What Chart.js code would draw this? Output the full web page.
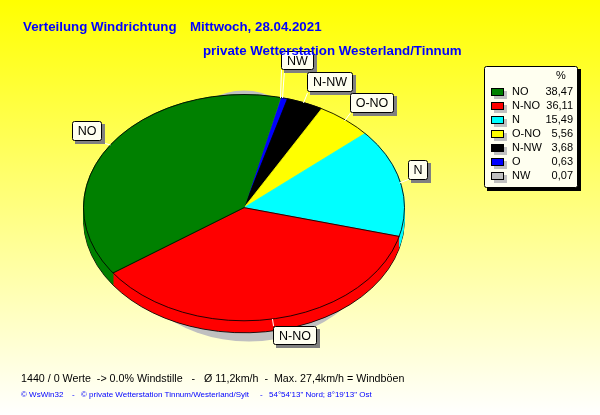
<!DOCTYPE html>
<html>
<head>
<meta charset="utf-8">
<script src="https://cdn.jsdelivr.net/npm/chart.js@4"></script>
<style>
    html, body { margin: 0; padding: 0; }
    body { width: 600px; height: 415px; overflow: hidden; background: linear-gradient(180deg, #ffff00 0%, #ffffff 100%); }
    #wrap { position: absolute; left: 0; top: 0; width: 600px; height: 415px; }
</style>
</head>
<body>
<div id="wrap"><canvas id="chart" width="600" height="415"></canvas></div>
<script>
// legend order, as printed
const categories = ['NO', 'N-NO', 'N', 'O-NO', 'N-NW', 'O', 'NW'];
const percentValues = [38.47, 36.11, 15.49, 5.56, 3.68, 0.63, 0.07];
const percentLabels = ['38,47', '36,11', '15,49', '5,56', '3,68', '0,63', '0,07'];
const sliceColors = ['#008000', '#ff0000', '#00ffff', '#ffff00', '#000000', '#0000ff', '#c0c0c0'];

// the original runs counter-clockwise, chart.js only clockwise
const drawLabels = [...categories].reverse();
const drawValues = [...percentValues].reverse();
const drawColors = [...sliceColors].reverse();

const squash = 113.5 / 161;
const centerY = 208;
const depth = 12;

// callouts: name, box x, y, w, h
const callouts = [
    ['NW', 281, 51, 33, 19],
    ['N-NW', 307, 72, 46, 20],
    ['O-NO', 350, 93, 44, 20],
    ['N', 408, 160, 20, 20],
    ['NO', 72, 121, 30, 20],
    ['N-NO', 273, 326, 44, 19]
];
// white leaders: x1, y1, x2, y2
const leaders = [
    [281, 70, 280, 98],
    [284, 70, 282, 98],
    [307, 93, 303, 103],
    [350, 113, 344, 121],
    [409, 179, 399, 183],
    [103, 143, 110, 145],
    [272, 319, 273, 326]
];

function rect3d(ctx, x, y, w, h, shadow, off) {
    ctx.fillStyle = shadow;
    ctx.fillRect(x + off, y + off, w, h);
    ctx.beginPath();
    ctx.roundRect(x + 0.5, y + 0.5, w - 1, h - 1, 2);
    ctx.fillStyle = '#fffff0';
    ctx.fill();
    ctx.strokeStyle = '#000';
    ctx.lineWidth = 1;
    ctx.stroke();
}

const tiltPlugin = {
    id: 'tilt',
    beforeDatasetsDraw(chart) {
        const ctx = chart.ctx;
        const arcs = chart.getDatasetMeta(0).data;
        const cx = arcs[0].x;
        const cy = arcs[0].y;
        const r = arcs[0].outerRadius;

        // grey shadow behind the pie
        ctx.save();
        ctx.fillStyle = '#c0c0c0';
        ctx.beginPath();
        ctx.ellipse(cx, cy + 8, 92, 125, 0, 0, Math.PI * 2);
        ctx.fill();
        ctx.beginPath();
        ctx.ellipse(cx + 5, cy + 18, 135, 116, 0, 0, Math.PI * 2);
        ctx.fill();
        ctx.restore();

        // side wall, stacked from the bottom up
        ctx.save();
        ctx.translate(0, centerY);
        ctx.scale(1, squash);
        ctx.translate(0, -centerY);
        for (let d = depth; d >= 1; d--) {
            arcs.forEach((arc, i) => {
                const p = arc.getProps(['startAngle', 'endAngle']);
                ctx.beginPath();
                ctx.moveTo(cx, cy + d / squash);
                ctx.arc(cx, cy + d / squash, r, p.startAngle, p.endAngle);
                ctx.closePath();
                ctx.fillStyle = drawColors[i];
                ctx.fill();
                if (d === depth) {
                    ctx.beginPath();
                    ctx.arc(cx, cy + d / squash, r, p.startAngle, p.endAngle);
                    ctx.strokeStyle = '#000';
                    ctx.lineWidth = 1;
                    ctx.stroke();
                }
            });
        }
        ctx.restore();

        // squash the library's own arcs into the ellipse
        ctx.save();
        ctx.translate(0, centerY);
        ctx.scale(1, squash);
        ctx.translate(0, -centerY);
    },
    afterDatasetsDraw(chart) {
        const ctx = chart.ctx;
        const arcs = chart.getDatasetMeta(0).data;
        const cx = arcs[0].x;
        const cy = arcs[0].y;
        const r = arcs[0].outerRadius;

        // black rim of the top face, still squashed
        ctx.beginPath();
        ctx.arc(cx, cy, r, 0, Math.PI * 2);
        ctx.strokeStyle = '#000';
        ctx.lineWidth = 1;
        ctx.stroke();
        // black spokes either side of the red slice
        const red = arcs[drawLabels.indexOf('N-NO')].getProps(['startAngle', 'endAngle']);
        [red.startAngle, red.endAngle].forEach(a => {
            ctx.beginPath();
            ctx.moveTo(cx, cy);
            ctx.lineTo(cx + r * Math.cos(a), cy + r * Math.sin(a));
            ctx.stroke();
        });
        ctx.restore();

        ctx.save();
        // leaders
        ctx.strokeStyle = '#ffffff';
        ctx.lineWidth = 1;
        leaders.forEach(l => {
            ctx.beginPath();
            ctx.moveTo(l[0] + 0.5, l[1]);
            ctx.lineTo(l[2] + 0.5, l[3]);
            ctx.stroke();
        });
        // callout boxes
        ctx.font = '12.5px "Liberation Sans"';
        ctx.textAlign = 'center';
        ctx.textBaseline = 'middle';
        callouts.forEach(c => {
            rect3d(ctx, c[1], c[2], c[3], c[4], '#808080', 3);
            ctx.fillStyle = '#000';
            ctx.fillText(c[0], c[1] + c[3] / 2, c[2] + c[4] / 2 + 1);
        });

        // legend box
        rect3d(ctx, 484, 66, 94, 122, '#000000', 3);
        ctx.font = '11px "Liberation Sans"';
        ctx.textAlign = 'left';
        ctx.fillStyle = '#000';
        ctx.fillText('%', 556, 76);
        categories.forEach((name, i) => {
            const y = 92 + i * 14;
            ctx.fillStyle = '#c0c0c0';
            ctx.fillRect(494, y - 1, 13, 8);
            ctx.fillStyle = sliceColors[i];
            ctx.fillRect(491, y - 4, 13, 8);
            ctx.strokeStyle = '#000';
            ctx.strokeRect(491.5, y - 3.5, 12, 7);
            ctx.fillStyle = '#000';
            ctx.textAlign = 'left';
            ctx.fillText(name, 512, y);
            ctx.textAlign = 'right';
            ctx.fillText(percentLabels[i], 573, y);
        });

        // title and footer
        ctx.textAlign = 'left';
        ctx.textBaseline = 'alphabetic';
        ctx.fillStyle = '#0000ff';
        ctx.font = 'bold 13.3px "Liberation Sans"';
        ctx.fillText('Verteilung Windrichtung', 23, 31);
        ctx.fillText('Mittwoch, 28.04.2021', 190, 31);
        ctx.fillText('private Wetterstation Westerland/Tinnum', 203, 55);
        ctx.fillStyle = '#000';
        ctx.font = '10.7px "Liberation Sans"';
        ctx.fillText('1440 / 0 Werte  -> 0.0% Windstille   -   Ø 11,2km/h  -  Max. 27,4km/h = Windböen', 21, 382);
        ctx.fillStyle = '#0000ff';
        ctx.font = '8px "Liberation Sans"';
        ctx.fillText('© WsWin32', 21, 397);
        ctx.fillText('-', 72, 397);
        ctx.fillText('© private Wetterstation Tinnum/Westerland/Sylt', 81, 397);
        ctx.fillText('-', 260, 397);
        ctx.fillText('54°54\'13" Nord; 8°19\'13" Ost', 269, 397);
        ctx.restore();
    }
};

new Chart(document.getElementById('chart'), {
    type: 'pie',
    data: {
        labels: drawLabels,
        datasets: [{
            data: drawValues,
            backgroundColor: drawColors,
            borderColor: drawColors,
            borderWidth: 1
        }]
    },
    options: {
        responsive: false,
        animation: false,
        rotation: 13.2,
        layout: { padding: { left: 83, right: 195, top: 46, bottom: 46 } },
        plugins: { legend: { display: false }, tooltip: { enabled: false } }
    },
    plugins: [tiltPlugin]
});
</script>
</body>
</html>
